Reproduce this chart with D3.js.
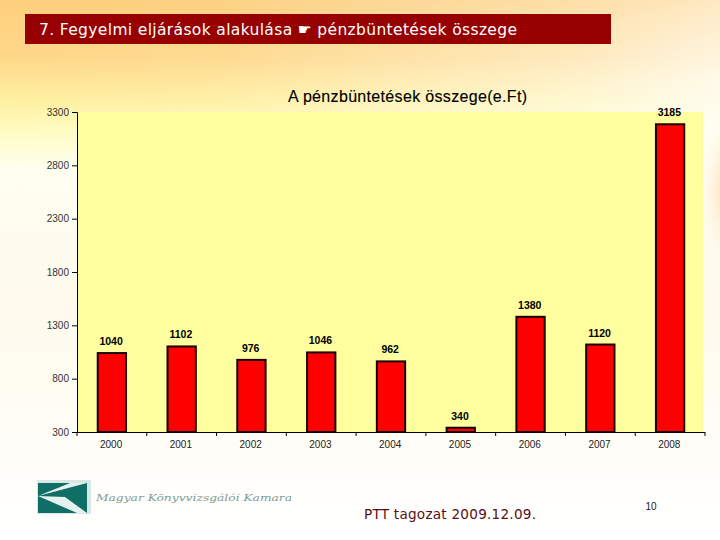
<!DOCTYPE html>
<html><head><meta charset="utf-8">
<script src="https://cdn.jsdelivr.net/npm/d3@7"></script>
<style>html,body{margin:0;padding:0;background:#fff}svg{display:block}</style>
</head><body><div id="c"></div>
<script>
const categories=["2000","2001","2002","2003","2004","2005","2006","2007","2008"];
const values=[1040,1102,976,1046,962,340,1380,1120,3185];
const yTicks=[300,800,1300,1800,2300,2800,3300];
const headerText="7. Fegyelmi eljárások alakulása \u261B pénzbüntetések összege";
const chartTitle="A pénzbüntetések összege(e.Ft)";
const footerText="PTT tagozat 2009.12.09.";
const logoText="Magyar Könyvvizsgálói Kamara";
const pageNumber="10";

const W=720,H=540,m={l:77,r:705,t:112,b:432};
const svg=d3.select("#c").append("svg").attr("width",W).attr("height",H);
const defs=svg.append("defs");
function grad(id,x1,y1,x2,y2,stops){
  const g=defs.append("linearGradient").attr("id",id).attr("x1",x1).attr("y1",y1).attr("x2",x2).attr("y2",y2);
  stops.forEach(s=>g.append("stop").attr("offset",s[0]).attr("stop-color",s[1]).attr("stop-opacity",s[2]));
}
grad("bgA",0,0,0,1,[[0,"#fdcf7c",1],[0.11,"#fed98a",1],[0.185,"#fff0a0",1],[0.24,"#fffbc0",1],[0.31,"#fffff0",1],[0.37,"#fffdf0",1],[0.56,"#fffaec",1],[0.8,"#fffdf6",1],[1,"#ffffff",1]]);
grad("bgB",0,0,1,0,[[0,"#ffffff",0],[0.3,"#ffffff",0.08],[0.8,"#ffffff",0.5],[1,"#ffffff",0.8]]);
grad("bgC",0,0,0,1,[[0,"#aaa",1],[0.15,"#fff",1],[0.25,"#fff",1],[0.4,"#000",1]]);
const rg=defs.append("radialGradient").attr("id","bgR");
rg.append("stop").attr("offset",0).attr("stop-color","#fdd9a0").attr("stop-opacity",.8);
rg.append("stop").attr("offset",1).attr("stop-color","#fff").attr("stop-opacity",0);
defs.append("mask").attr("id","mk").append("rect").attr("width",W).attr("height",H).attr("fill","url(#bgC)");
svg.append("rect").attr("width",W).attr("height",H).attr("fill","url(#bgA)");
svg.append("rect").attr("width",W).attr("height",H).attr("fill","url(#bgB)").attr("mask","url(#mk)");
svg.append("ellipse").attr("cx",725).attr("cy",190).attr("rx",30).attr("ry",90).attr("fill","url(#bgR)");

// header
svg.append("rect").attr("x",25).attr("y",14).attr("width",586).attr("height",30).attr("fill","#960000");
svg.append("text").attr("x",39).attr("y",35).attr("fill","#fff").attr("font-family","DejaVu Sans").attr("font-size",15.5).attr("textLength",478).attr("lengthAdjust","spacing").text(headerText);

// title
svg.append("text").attr("x",407.5).attr("y",102).attr("text-anchor","middle").attr("font-family","Liberation Sans").attr("font-size",16).attr("stroke","#000").attr("stroke-width",.12).attr("fill","#000").attr("textLength",239).attr("lengthAdjust","spacing").text(chartTitle);

// scales
const x=d3.scaleBand().domain(categories).range([m.l,m.r]).paddingInner(0.58).paddingOuter(0.29);
const y=d3.scaleLinear().domain([300,3300]).range([m.b,m.t]);

svg.append("rect").attr("x",m.l).attr("y",m.t).attr("width",m.r-m.l-2).attr("height",m.b-m.t).attr("fill","#ffffa0");

// bars
svg.append("g").selectAll("rect").data(values).join("rect")
  .attr("x",(d,i)=>x(categories[i])+.5).attr("y",d=>y(d))
  .attr("width",x.bandwidth()-1).attr("height",d=>y(300)-y(d))
  .attr("fill","#ff0000").attr("stroke","#1a0000").attr("stroke-width",2);

// labels
svg.append("g").selectAll("text").data(values).join("text")
  .attr("x",(d,i)=>x(categories[i])+x.bandwidth()/2-0.8).attr("y",d=>y(d)-8)
  .attr("text-anchor","middle").attr("font-family","Liberation Sans").attr("font-weight","bold").attr("font-size",10.5).attr("fill","#000").text(d=>d);

// axes
const ax=d3.axisLeft(y).tickValues(yTicks).tickSize(5).tickPadding(3).tickFormat(d3.format("d"));
const gy=svg.append("g").attr("transform",`translate(${m.l},0)`).call(ax);
gy.selectAll("text").attr("font-family","Liberation Sans").attr("font-size",10).attr("fill","#333");
gy.select(".domain").attr("stroke","#000");
gy.selectAll(".tick line").attr("stroke","#000");

const step=x.step();
const xEdges=d3.range(categories.length+1).map(i=>m.l+i*step);
const gx=svg.append("g");
gx.append("line").attr("x1",m.l-5).attr("x2",xEdges[xEdges.length-1]).attr("y1",m.b+.5).attr("y2",m.b+.5).attr("stroke","#000");
gx.selectAll(".t").data(xEdges).join("line").attr("class","t").attr("x1",d=>d).attr("x2",d=>d).attr("y1",m.b).attr("y2",m.b+4).attr("stroke","#000");
gx.selectAll("text").data(categories).join("text")
  .attr("x",d=>x(d)+x.bandwidth()/2-0.8).attr("y",m.b+15.5).attr("text-anchor","middle")
  .attr("font-family","Liberation Sans").attr("font-size",10).attr("fill","#222").text(d=>d);

// logo
const lg=svg.append("g").attr("transform","translate(37,480)");
lg.append("rect").attr("x",0).attr("y",0).attr("width",54).attr("height",34).attr("fill","#d6e9e6");
lg.append("rect").attr("x",1).attr("y",3).attr("width",49).attr("height",30).attr("fill","#0f6f66");
lg.append("path").attr("d","M1 16 L50 3 L33 3 Z M1 16 L28 17 L50 33 L40 33 Z").attr("fill","#e6f2ef");
svg.append("text").attr("x",96).attr("y",501).attr("font-family","DejaVu Serif").attr("font-style","italic").attr("font-size",9.6).attr("fill","#7d9a94").attr("textLength",196).attr("lengthAdjust","spacingAndGlyphs").text(logoText);

// footer
svg.append("text").attr("x",364).attr("y",519).attr("font-family","DejaVu Sans").attr("font-size",13.6).attr("fill","#5a0f14").attr("textLength",172).attr("lengthAdjust","spacing").text(footerText);
svg.append("text").attr("x",651).attr("y",510).attr("text-anchor","middle").attr("font-family","Liberation Sans").attr("font-size",10).attr("fill","#222").text(pageNumber);
</script></body></html>
